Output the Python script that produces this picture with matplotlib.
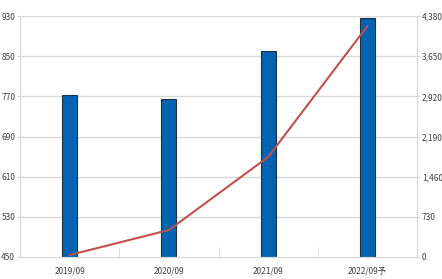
import matplotlib
matplotlib.use("Agg")
import matplotlib.pyplot as plt
from matplotlib.ticker import FuncFormatter
from matplotlib import font_manager

names = {f.name for f in font_manager.fontManager.ttflist}
narrow = 'Liberation Sans Narrow' if 'Liberation Sans Narrow' in names else 'Noto Sans CJK JP'
plt.rcParams['font.family'] = [narrow, 'Noto Sans CJK JP', 'DejaVu Sans']

categories = ["2019/09", "2020/09", "2021/09", "2022/09予"]
bar_values = [772, 765, 860, 926]
line_values = [36, 490, 1817, 4197]
left_ticks = [450, 530, 610, 690, 770, 850, 930]
right_ticks = [0, 730, 1460, 2190, 2920, 3650, 4380]

fig = plt.figure(figsize=(4.42, 2.79), dpi=100)
ax = fig.add_axes([20/442, 1 - 257/279, 397/442, 241/279])
x = list(range(len(categories)))

ax.set_xlim(-0.5, len(categories) - 0.5)
ax.set_ylim(450, 930)
ax.set_yticks(left_ticks)
for t in left_ticks[1:]:
    ax.axhline(t, color='#d9d9d9', lw=1, zorder=0)
ax.bar(x, [v - 450 for v in bar_values], bottom=450, width=0.15,
       color='#0063B1', edgecolor='#1f2f3f', lw=0.8, zorder=2)

ax2 = ax.twinx()
ax2.set_ylim(0, 4380)
ax2.set_yticks(right_ticks)
ax2.yaxis.set_major_formatter(FuncFormatter(lambda v, p: f"{int(v):,}"))
ax2.plot(x, line_values, color='#C0504D', lw=1.5, zorder=3)

ax.set_xticks(x)
ax.set_xticklabels(categories)
ax.set_xticks([0.5, 1.5, 2.5], minor=True)
ax.tick_params(axis='x', which='major', length=0, pad=7)
ax.tick_params(axis='x', which='minor', length=7, direction='in', color='#d9d9d9')
ax.tick_params(axis='y', length=2.5, color='#d9d9d9', pad=1)
ax2.tick_params(axis='y', length=2.5, color='#d9d9d9', pad=1)

for a in (ax, ax2):
    for s in ['top']:
        a.spines[s].set_visible(False)
    for s in ['left', 'right', 'bottom']:
        a.spines[s].set_color('#d9d9d9')
    for lab in a.get_xticklabels() + a.get_yticklabels():
        lab.set_fontsize(6.0)
        lab.set_color('#404040')

fig.savefig("out.png", dpi=100)
